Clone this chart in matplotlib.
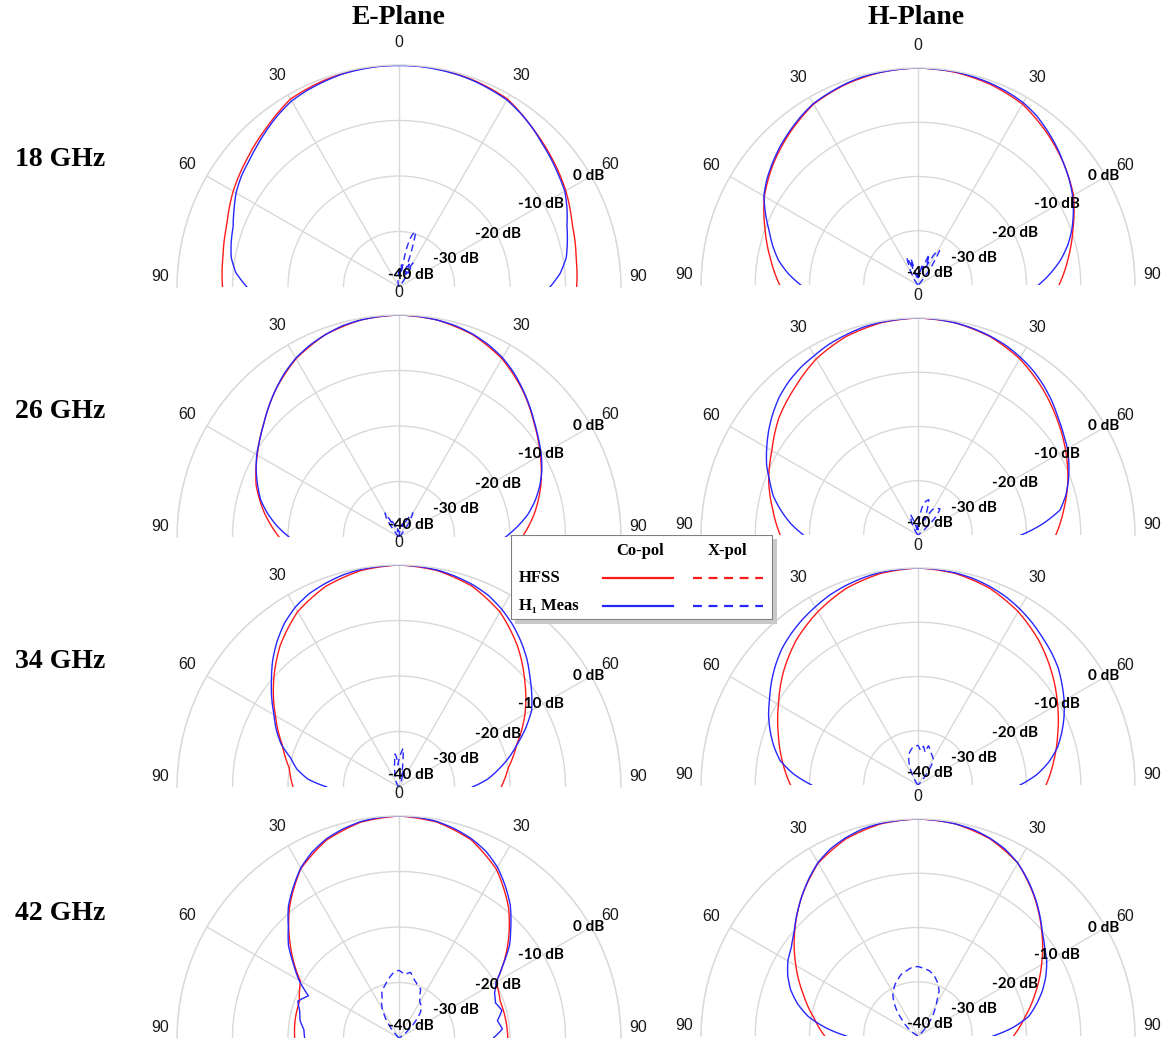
import numpy as np
import matplotlib
matplotlib.use("Agg")
import matplotlib.pyplot as plt
from matplotlib.patches import Rectangle
from matplotlib.lines import Line2D

W, H = 1167, 1039

# angle grids (deg): HFSS every 10 deg, measurement every 5 deg
ang_sim = np.arange(-100, 101, 10)
ang_meas = np.arange(-100, 101, 5)

# ---- 18 GHz ----
e18_sim = [-8.6, -8.2, -7.8, -7.0, -5.5, -4.2, -2.7, -0.9, -0.4, -0.1, 0.0,
           -0.1, -0.4, -0.9, -2.6, -4.0, -5.3, -6.8, -7.6, -8.0, -8.4]
e18_meas = [-17.0, -15.0, -12.6, -10.5, -9.3, -8.7, -8.2, -7.2, -6.1, -5.3, -4.7,
            -3.9, -3.0, -2.1, -1.3, -0.9, -0.6, -0.3, -0.2, -0.1, -0.1,
            -0.1, -0.2, -0.3, -0.5, -0.8, -1.1, -1.8, -2.6, -3.5, -4.2,
            -4.9, -5.5, -6.6, -7.8, -8.6, -9.4, -10.8, -12.8, -15.5, -18.0]
e18_xang = [-30, -20, -10, -5, 0, 3, 6, 9, 11, 13, 15, 17, 19, 21, 24, 27, 30, 33, 36, 40, 50, 60]
e18_xpol = [-41, -40.5, -39, -38.5, -37, -38, -36, -37.5, -33, -31, -30, -29.6, -33, -37,
            -35.5, -37.5, -35, -37, -38.5, -40, -41, -42]

h18_sim = [-16.5, -14.5, -12.4, -10.0, -7.3, -5.2, -3.3, -1.5, -0.7, -0.2, 0.0,
           -0.2, -0.7, -1.5, -3.2, -5.0, -6.9, -9.6, -11.9, -14.0, -16.0]
h18_meas = [-22.0, -20.0, -18.4, -16.0, -13.9, -12.3, -10.8, -9.0, -7.2, -6.0, -5.0,
            -4.0, -3.1, -2.2, -1.4, -1.0, -0.6, -0.3, -0.2, -0.1, 0.0,
            -0.1, -0.1, -0.3, -0.5, -0.8, -1.2, -1.9, -2.9, -3.9, -5.0,
            -6.0, -7.1, -8.4, -9.8, -11.4, -13.3, -15.5, -17.8, -20.0, -22.0]
h18_xang = [-60, -40, -30, -25, -22, -18, -15, -12, -8, -4, 0, 4, 8, 12, 16, 20, 24, 28, 32, 35, 38, 42, 50, 60]
h18_xpol = [-41, -40, -38, -36, -34.5, -37, -35, -38, -39, -38, -39, -37, -38.5, -36,
            -37, -34, -36.5, -33.5, -32.5, -35, -37.5, -39, -41, -42]

# ---- 26 GHz ----
e26_sim = [-20.5, -18.4, -15.4, -12.6, -10.5, -8.2, -5.4, -2.9, -1.2, -0.3, 0.0,
           -0.3, -1.2, -2.9, -5.4, -8.2, -10.6, -12.8, -15.2, -17.8, -20.0]
e26_meas = [-24.0, -22.0, -20.2, -18.0, -16.0, -14.2, -12.9, -11.6, -10.4, -9.4, -8.2,
            -6.8, -5.4, -4.0, -2.8, -1.9, -1.2, -0.6, -0.3, -0.1, 0.0,
            -0.1, -0.3, -0.6, -1.1, -1.8, -2.7, -3.9, -5.3, -6.7, -8.1,
            -9.3, -10.4, -11.6, -13.0, -14.6, -16.4, -18.6, -20.8, -23.0, -25.0]
e26_xang = [-60, -45, -38, -34, -30, -27, -24, -20, -15, -10, -5, 0, 5, 10, 15, 20, 25, 30, 34, 38, 45, 60]
e26_xpol = [-41, -40, -38.5, -36, -35, -37, -36.5, -38, -39, -38.5, -39.5, -40, -39.5,
            -38.5, -37.5, -38, -36.5, -35, -36.5, -38.5, -40, -41]

h26_sim = [-17.0, -14.6, -12.8, -10.7, -8.9, -6.5, -4.6, -2.5, -1.1, -0.3, 0.0,
           -0.3, -1.1, -2.5, -4.5, -6.6, -8.6, -10.6, -12.7, -14.6, -17.0]
h26_meas = [-22.0, -20.5, -18.9, -16.5, -14.4, -12.4, -10.9, -9.2, -7.8, -6.4, -5.1,
            -3.9, -3.0, -2.3, -1.8, -1.2, -0.8, -0.4, -0.2, -0.1, 0.0,
            -0.1, -0.3, -0.6, -1.0, -1.5, -2.2, -3.0, -4.0, -5.1, -6.3,
            -7.3, -8.2, -9.3, -10.5, -11.8, -13.4, -17.0, -21.0, -24.5, -27.5]
h26_xang = [-60, -40, -30, -25, -20, -15, -10, -5, 0, 5, 8, 11, 14, 17, 20, 23, 26, 30, 35, 40, 44, 48, 55, 60]
h26_xpol = [-41, -40, -38.5, -37, -36, -38, -39, -38, -39, -37, -35, -34, -33.5, -33.2,
            -35, -37, -36, -34.5, -34, -33.7, -35, -38, -40, -41]

# ---- 34 GHz ----
e34_sim = [-22.0, -20.9, -19.9, -17.6, -14.3, -10.5, -6.7, -3.5, -1.5, -0.4, 0.0,
           -0.4, -1.5, -3.6, -6.8, -10.4, -13.8, -17.4, -20.0, -21.6, -22.5]
e34_meas = [-28.5, -25.8, -27.0, -23.5, -21.3, -19.8, -17.4, -15.6, -14.0, -12.0, -10.0,
            -7.8, -5.8, -4.0, -2.6, -1.6, -1.0, -0.5, -0.2, -0.1, 0.0,
            -0.1, -0.3, -0.7, -1.2, -1.9, -3.0, -4.3, -5.8, -7.4, -9.2,
            -10.8, -12.4, -14.8, -17.3, -19.5, -21.8, -24.0, -26.8, -27.5, -29.0]
e34_xang = [-60, -40, -30, -20, -15, -10, -7, -5, -3, 0, 3, 6, 9, 12, 15, 20, 30, 40, 60]
e34_xpol = [-41, -40, -39, -38, -37, -35.5, -34, -34.5, -36, -35, -34, -33, -35.5, -38,
            -37, -39, -40, -41, -42]

h34_sim = [-18.5, -16.5, -14.6, -12.6, -10.3, -7.6, -5.1, -3.1, -1.4, -0.4, 0.0,
           -0.4, -1.4, -3.1, -5.3, -7.8, -10.3, -12.6, -14.6, -16.4, -18.5]
h34_meas = [-24.0, -22.5, -20.4, -17.0, -14.2, -12.5, -11.0, -9.6, -8.4, -7.0, -5.7,
            -4.5, -3.6, -2.8, -2.1, -1.4, -0.9, -0.5, -0.2, -0.1, 0.0,
            -0.1, -0.3, -0.6, -1.1, -1.7, -2.5, -3.4, -4.4, -5.3, -6.3,
            -7.6, -8.9, -10.3, -11.8, -13.4, -15.5, -18.0, -21.2, -24.0, -26.0]
h34_xang = [-60, -40, -30, -25, -20, -16, -12, -8, -4, 0, 4, 8, 12, 15, 18, 22, 26, 30, 34, 38, 45, 60]
h34_xpol = [-41, -40, -38.5, -36.5, -35, -34, -33.5, -33, -32.8, -32.7, -33.6, -32.8,
            -33.8, -32.5, -33, -33.6, -34, -34.4, -35.5, -37.5, -40, -41]

# ---- 42 GHz ----
e42_sim = [-21.5, -21.2, -21.0, -20.9, -19.5, -14.5, -9.3, -4.7, -2.0, -0.5, 0.0,
           -0.5, -2.0, -4.9, -9.3, -14.5, -19.8, -20.6, -20.5, -20.4, -20.8]
e42_meas = [-23.5, -22.8, -23.0, -22.8, -21.9, -21.5, -20.6, -22.0, -19.2, -16.8, -14.0,
            -11.8, -9.0, -6.8, -4.6, -3.0, -1.8, -1.0, -0.4, -0.1, 0.0,
            -0.1, -0.4, -1.0, -1.8, -2.9, -4.5, -6.6, -8.8, -11.5, -14.0,
            -17.2, -19.8, -21.0, -21.5, -20.8, -22.0, -21.3, -23.0, -22.4, -23.5]
e42_xang = [-60, -45, -40, -35, -30, -26, -24, -20, -15, -10, -5, 0, 5, 10, 15, 20, 24, 26, 30, 35, 40, 45, 50, 60]
e42_xpol = [-41, -40, -38, -36, -34, -32.8, -32.6, -31, -30.2, -29.2, -28.2, -27.8,
            -28.5, -28.0, -29.2, -30.0, -30.4, -31.5, -32.5, -33, -34, -36, -38, -41]

h42_sim = [-25.0, -22.8, -20.5, -17.5, -14.0, -10.3, -6.6, -3.2, -1.3, -0.3, 0.0,
           -0.3, -1.3, -3.2, -6.6, -10.2, -13.7, -17.0, -20.0, -22.4, -24.5]
h42_meas = [-30.0, -28.5, -26.8, -23.0, -19.5, -17.0, -15.0, -13.5, -12.3, -11.5, -10.2,
            -8.4, -6.6, -4.8, -3.1, -1.9, -1.1, -0.5, -0.2, -0.1, 0.0,
            -0.1, -0.3, -0.6, -1.2, -2.0, -3.2, -4.8, -6.5, -8.3, -10.1,
            -11.5, -12.6, -14.0, -15.6, -17.4, -19.3, -22.5, -26.2, -28.5, -30.0]
h42_xang = [-60, -45, -40, -35, -31, -27, -24, -20, -15, -10, -5, 0, 5, 10, 15, 20, 25, 28, 32, 36, 40, 45, 50, 60]
h42_xpol = [-41, -36, -34, -32.2, -31.0, -30.2, -29.6, -29, -28.2, -27.8, -27.3, -27.2,
            -27.5, -27.8, -28.5, -29.5, -30.8, -32.5, -34, -35.5, -37, -38.5, -40, -41]

freqs = ["18 GHz", "26 GHz", "34 GHz", "42 GHz"]
e_plane = [(e18_sim, e18_meas, e18_xang, e18_xpol), (e26_sim, e26_meas, e26_xang, e26_xpol),
           (e34_sim, e34_meas, e34_xang, e34_xpol), (e42_sim, e42_meas, e42_xang, e42_xpol)]
h_plane = [(h18_sim, h18_meas, h18_xang, h18_xpol), (h26_sim, h26_meas, h26_xang, h26_xpol),
           (h34_sim, h34_meas, h34_xang, h34_xpol), (h42_sim, h42_meas, h42_xang, h42_xpol)]

RED = "#ff1a1a"
BLUE = "#2626ff"
GRID = "#d9d9d9"
SERIF = ["Liberation Serif", "DejaVu Serif"]
ANG_FONT = dict(family="Liberation Sans", fontsize=11.5, color="#1a1a1a")

db_ticks = [0, -10, -20, -30, -40]
db_offsets = [(-2, 0), (-1.5, 0), (2, -1.5), (6.5, 0), (8.5, 8.5)]


def polar_line(ax, ang, vals, **kw):
    ln, = ax.plot(np.deg2rad(ang), np.maximum(vals, -40), **kw)
    # let the polar transform curve each segment instead of drawing chords
    ln.get_path()._interpolation_steps = 16
    return ln


def polar_panel(fig, cx, cy, R, sim, meas, xang, xpol):
    # polar axes keep a square box; the half-disc sits in its middle
    rect = [(cx - R) / W, (H - cy - R / 2) / H, 2 * R / W, 2 * R / H]
    ax = fig.add_axes(rect, projection="polar")
    ax.set_theta_zero_location("N")
    ax.set_theta_direction(-1)
    ax.set_thetamin(-90)
    ax.set_thetamax(90)
    ax.set_rlim(-40, 0)
    ax.set_rticks([-30, -20, -10, 0])
    ax.set_yticklabels([])
    ax.set_thetagrids([-60, -30, 0, 30, 60],
                      labels=["60", "30", "0", "30", "60"], **ANG_FONT)
    ax.tick_params(axis="x", pad=9, length=0)
    ax.tick_params(axis="y", length=0)
    ax.grid(True, color=GRID, lw=1.0)
    ax.spines["polar"].set_color(GRID)
    ax.spines["polar"].set_linewidth(1.0)
    for s in ("start", "end", "inner"):
        ax.spines[s].set_color("none")
        ax.spines[s].set_linewidth(0)

    # the two 90 labels sit a little above the horizon
    for side in (-1, 1):
        ax.annotate("90", xy=(np.deg2rad(90 * side), 0), xytext=(side * 12, 7.5),
                    textcoords="offset points", ha="center", va="center",
                    annotation_clip=False, **ANG_FONT)

    polar_line(ax, ang_sim, sim, color=RED, lw=1.0)
    polar_line(ax, ang_meas, meas, color=BLUE, lw=1.0)
    polar_line(ax, xang, xpol, color=BLUE, lw=1.0, ls=(0, (5, 3)))

    for v, (dx, dy) in zip(db_ticks, db_offsets):
        ax.annotate(f"{v} dB", xy=(np.deg2rad(60), v), xytext=(dx, dy),
                    textcoords="offset points", ha="center", va="center",
                    family="Lato", fontweight="bold", fontsize=11, color="black",
                    annotation_clip=False, zorder=5)
    return ax


fig = plt.figure(figsize=(W / 100, H / 100), dpi=100)

left_cy = [287, 537, 787, 1038]
right_cy = [285, 535, 785, 1036]
for i in range(4):
    polar_panel(fig, 399, left_cy[i], 222, *e_plane[i])
    polar_panel(fig, 918, right_cy[i], 217, *h_plane[i])

# titles and row labels
fig.text(399 / W, 1 - 18 / H, "E-Plane", ha="center", va="center",
         family=SERIF, fontweight="bold", fontsize=20)
fig.text(916 / W, 1 - 18 / H, "H-Plane", ha="center", va="center",
         family=SERIF, fontweight="bold", fontsize=20)
row_y = [160, 412, 662, 913]
for f, y in zip(freqs, row_y):
    fig.text(60 / W, 1 - y / H, f, ha="center", va="center",
             family=SERIF, fontweight="bold", fontsize=20)

# legend box
lx, ly, lw_, lh = 511, 535, 262, 85
fig.patches.append(Rectangle(((lx + 4) / W, 1 - (ly + lh + 4) / H), lw_ / W, lh / H,
                             transform=fig.transFigure, facecolor="#c8c8c8",
                             edgecolor="none", zorder=10))
lax = fig.add_axes([lx / W, 1 - (ly + lh) / H, lw_ / W, lh / H], zorder=20)
lax.set_xlim(0, lw_)
lax.set_ylim(lh, 0)
lax.axis("off")
lax.add_patch(Rectangle((0, 0), lw_, lh, facecolor="white", edgecolor="#7f7f7f", lw=1.5))
lax.text(129, 16, "Co-pol", ha="center", va="center", family=SERIF, fontweight="bold", fontsize=12)
lax.text(217, 16, "X-pol", ha="center", va="center", family=SERIF, fontweight="bold", fontsize=12)
lax.text(8, 43, "HFSS", ha="left", va="center", family=SERIF, fontweight="bold", fontsize=12)
lax.text(8, 71, "H\u2081 Meas", ha="left", va="center", family=SERIF, fontweight="bold", fontsize=12)
for y, c in ((43, RED), (71, BLUE)):
    lax.add_line(Line2D([92, 162], [y, y], color=c, lw=1.6))
    lax.add_line(Line2D([182, 252], [y, y], color=c, lw=1.6, ls=(0, (4, 3))))

fig.savefig("out.png", dpi=100)
